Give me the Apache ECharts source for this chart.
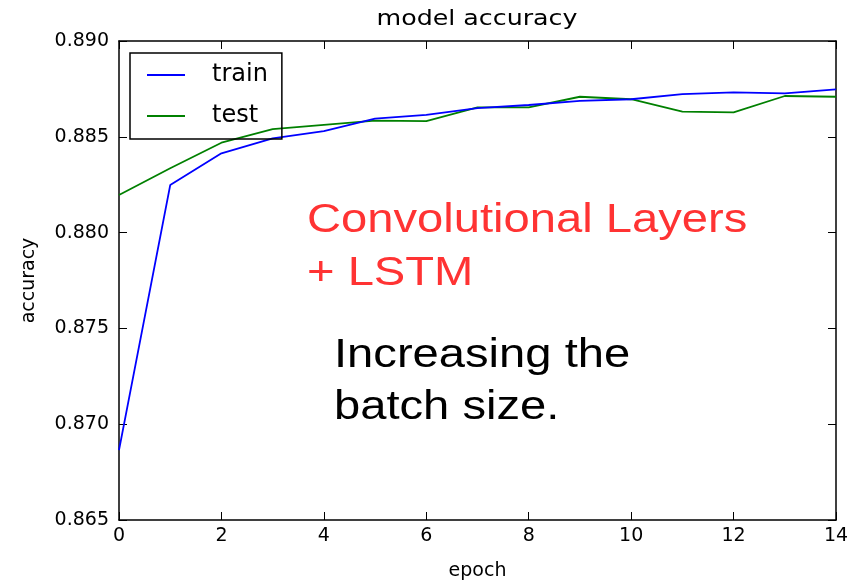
<!DOCTYPE html>
<html>
<head>
<meta charset="utf-8">
<script src="https://cdn.jsdelivr.net/npm/echarts@6/dist/echarts.min.js"></script>
<style>
  html, body { margin: 0; padding: 0; background: #fff; }
  #chart { width: 861px; height: 584px; }
</style>
</head>
<body>
<div id="chart"></div>
<script>
  // values
  var epochs = [0, 1, 2, 3, 4, 5, 6, 7, 8, 9, 10, 11, 12, 13, 14]
  var trainAcc = [0.86865, 0.88248, 0.88414, 0.88492, 0.8853, 0.88595, 0.88614, 0.8865, 0.88666, 0.88687, 0.88696, 0.88723, 0.88732, 0.88727, 0.88748]
  var testAcc = [0.88196, 0.88336, 0.88469, 0.8854, 0.88562, 0.88584, 0.88582, 0.88654, 0.88654, 0.88709, 0.88696, 0.88631, 0.88628, 0.88713, 0.88709]

  function pairs(ys) {
    return epochs.map(function (x, i) { return [x, ys[i]] })
  }

  var tickFont = 'DejaVu Sans'
  var frame = { show: true, onZero: false, lineStyle: { color: '#000', width: 1.5 } }
  var tickIn = { show: true, inside: true, length: 8, lineStyle: { color: '#000', width: 1 } }
  // the reference looks a bit wider than tall, so the free texts get a small x stretch
  var stretch = 1.15

  var chart = echarts.init(document.getElementById('chart'))
  chart.setOption({
    animation: false,
    backgroundColor: '#fff',
    grid: { left: 119, right: 25, top: 41, bottom: 64, outerBoundsMode: 'none' },
    legend: {
      left: 130,
      top: 53,
      orient: 'vertical',
      borderColor: '#000',
      borderWidth: 1.5,
      padding: [8, 14, 9, 17],
      icon: 'rect',
      itemWidth: 38,
      itemHeight: 2,
      itemGap: 13,
      textStyle: { fontFamily: tickFont, fontSize: 24, color: '#000', padding: [0, 0, 0, 22], lineHeight: 28 },
      data: ['train', 'test']
    },
    xAxis: [{
      type: 'value',
      min: 0, max: 14, interval: 2,
      name: 'epoch',
      nameLocation: 'middle',
      nameGap: 42,
      nameTextStyle: { fontFamily: tickFont, fontSize: 19, color: '#000' },
      axisLine: frame,
      axisTick: tickIn,
      axisLabel: { fontFamily: tickFont, fontSize: 19, color: '#000', margin: 7 },
      splitLine: { show: false }
    }, {
      type: 'value',
      position: 'top',
      min: 0, max: 14, interval: 2,
      axisLine: frame,
      axisTick: tickIn,
      axisLabel: { show: false },
      splitLine: { show: false }
    }],
    yAxis: [{
      type: 'value',
      min: 0.865, max: 0.890, interval: 0.005,
      name: 'accuracy',
      nameLocation: 'middle',
      nameGap: 80,
      nameTextStyle: { fontFamily: tickFont, fontSize: 19, color: '#000' },
      axisLine: frame,
      axisTick: tickIn,
      axisLabel: {
        fontFamily: tickFont, fontSize: 19, color: '#000', margin: 10,
        formatter: function (v) { return v.toFixed(3) }
      },
      splitLine: { show: false }
    }, {
      type: 'value',
      position: 'right',
      min: 0.865, max: 0.890, interval: 0.005,
      axisLine: frame,
      axisTick: tickIn,
      axisLabel: { show: false },
      splitLine: { show: false }
    }],
    series: [{
      name: 'train',
      type: 'line',
      data: pairs(trainAcc),
      symbol: 'none',
      color: '#0000ff',
      lineStyle: { color: '#0000ff', width: 1.8 },
      z: 3
    }, {
      name: 'test',
      type: 'line',
      data: pairs(testAcc),
      symbol: 'none',
      color: '#008000',
      lineStyle: { color: '#008000', width: 1.8 },
      z: 2
    }],
    graphic: [{
      type: 'text',
      x: 477,
      y: 8,
      scaleX: stretch,
      z: 10,
      style: {
        text: 'model accuracy',
        fill: '#000',
        font: '22px "DejaVu Sans"',
        align: 'center',
        verticalAlign: 'top'
      }
    }, {
      type: 'text',
      x: 307,
      y: 194,
      scaleX: stretch,
      z: 10,
      style: {
        text: 'Convolutional Layers\n+ LSTM',
        fill: '#ff3333',
        font: '41px "Liberation Sans", Arial, sans-serif',
        lineHeight: 53,
        verticalAlign: 'top'
      }
    }, {
      type: 'text',
      x: 334,
      y: 330,
      scaleX: stretch,
      z: 10,
      style: {
        text: 'Increasing the\nbatch size.',
        fill: '#000',
        font: '41px "Liberation Sans", Arial, sans-serif',
        lineHeight: 52,
        verticalAlign: 'top'
      }
    }]
  })
</script>
</body>
</html>
